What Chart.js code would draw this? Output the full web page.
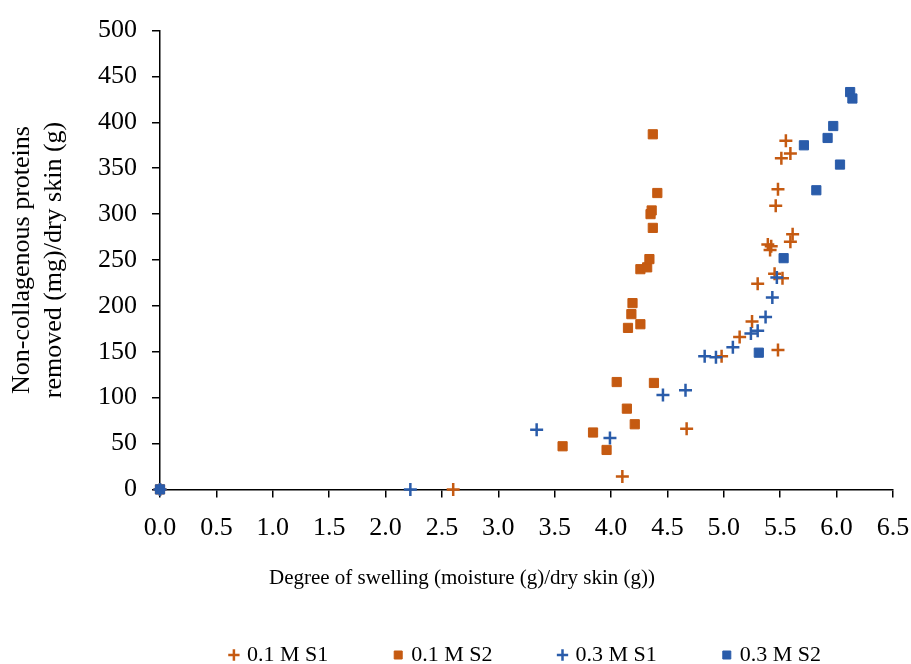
<!DOCTYPE html>
<html>
<head>
<meta charset="utf-8">
<script src="https://cdn.jsdelivr.net/npm/chart.js@4"></script>
<style>
  body { margin: 0; background: #fff; }
  canvas { display: block; }
</style>
</head>
<body>
<canvas id="swellingChart" width="911" height="664"></canvas>
<script>
// 0.1 M, series S1 / S2
var s1LowX = [0, 2.60, 4.10, 4.67, 4.98, 5.14, 5.25, 5.30, 5.48, 5.45, 5.52, 5.39, 5.42, 5.41, 5.59, 5.61, 5.46, 5.48, 5.51, 5.59, 5.55];
var s1LowY = [0, 0, 14, 66, 145, 166, 183, 224, 152, 235, 230, 267, 265, 261, 270, 278, 309, 327, 361, 366, 380];
var s2LowX = [0, 3.57, 3.84, 3.96, 4.05, 4.14, 4.21, 4.38, 4.15, 4.26, 4.18, 4.19, 4.26, 4.32, 4.34, 4.37, 4.35, 4.36, 4.41, 4.37];
var s2LowY = [0, 47, 62, 43, 117, 88, 71, 116, 176, 180, 191, 203, 240, 242, 251, 285, 300, 304, 323, 387];
// 0.3 M, series S1 / S2
var s1HighX = [0, 2.22, 3.34, 3.99, 4.46, 4.66, 4.83, 4.93, 5.08, 5.24, 5.30, 5.37, 5.43, 5.47];
var s1HighY = [0, 0, 65, 56, 103, 108, 145, 144, 155, 170, 173, 188, 209, 231];
var s2HighX = [0, 5.31, 5.53, 5.82, 6.03, 5.71, 5.92, 5.97, 6.12, 6.14];
var s2HighY = [0, 149, 252, 326, 354, 375, 383, 396, 433, 426];

var seriesNames = ['0.1 M S1', '0.1 M S2', '0.3 M S1', '0.3 M S2'];
var orange = '#C55A11';
var blue = '#2A5CAA';

function toPoints(xs, ys) {
	var pts = [];
	for (var i = 0; i < xs.length; i++) {
		pts.push({ x: xs[i], y: ys[i] });
	}
	return pts;
}

Chart.defaults.font.family = "'Liberation Serif', 'Times New Roman', serif";
Chart.defaults.font.size = 26;
Chart.defaults.color = '#000';

var ctx = document.getElementById('swellingChart');
var swellingChart = new Chart(ctx, {
	type: 'scatter',
	data: {
		datasets: [{
			label: seriesNames[0],
			data: toPoints(s1LowX, s1LowY),
			pointStyle: 'cross',
			pointRadius: 6.5,
			borderColor: orange,
			backgroundColor: orange,
			pointBorderWidth: 2.5,
			order: 4,
			clip: false
		}, {
			label: seriesNames[1],
			data: toPoints(s2LowX, s2LowY),
			pointStyle: 'rect',
			pointRadius: 6.5,
			borderColor: orange,
			backgroundColor: orange,
			pointBorderWidth: 1,
			order: 3,
			clip: false
		}, {
			label: seriesNames[2],
			data: toPoints(s1HighX, s1HighY),
			pointStyle: 'cross',
			pointRadius: 6.5,
			borderColor: blue,
			backgroundColor: blue,
			pointBorderWidth: 2.5,
			order: 2,
			clip: false
		}, {
			label: seriesNames[3],
			data: toPoints(s2HighX, s2HighY),
			pointStyle: 'rect',
			pointRadius: 6.5,
			borderColor: blue,
			backgroundColor: blue,
			pointBorderWidth: 1,
			order: 1,
			clip: false
		}]
	},
	options: {
		responsive: false,
		animation: false,
		layout: {
			padding: { left: 31, right: 18, top: 28, bottom: -12 }
		},
		scales: {
			x: {
				type: 'linear',
				min: 0,
				max: 6.5,
				ticks: {
					stepSize: 0.5,
					padding: 15,
					maxRotation: 0,
					callback: function (v) { return v.toFixed(1); }
				},
				grid: {
					drawOnChartArea: false,
					color: '#000',
					tickLength: 8,
					lineWidth: 1.5
				},
				border: { color: '#000', width: 1.5 },
				afterFit: function (scale) {
					scale.height = 76;
					scale.paddingLeft = 0;
					scale.paddingRight = 0;
				}
			},
			y: {
				min: 0,
				max: 500,
				ticks: {
					stepSize: 50,
					padding: 15
				},
				grid: {
					drawOnChartArea: false,
					color: '#000',
					tickLength: 8,
					lineWidth: 1.5
				},
				border: { color: '#000', width: 1.5 },
				title: {
					display: true,
					text: ['Non-collagenous proteins', 'removed (mg)/dry skin (g)'],
					padding: { top: -24, bottom: 0 }
				},
				afterFit: function (scale) { scale.width = 129; }
			}
		},
		plugins: {
			// x axis caption, centred on the whole figure like the original
			title: {
				display: true,
				position: 'bottom',
				weight: 500,
				text: 'Degree of swelling (moisture (g)/dry skin (g))',
				font: { size: 21, weight: 'normal' },
				padding: { top: 0, bottom: -14.6 }
			},
			legend: {
				position: 'bottom',
				fullSize: false,
				labels: {
					usePointStyle: true,
					boxWidth: 4,
					boxHeight: 8,
					padding: 68,
					font: { size: 22 },
					sort: function (a, b) { return a.datasetIndex - b.datasetIndex; }
				}
			},
			tooltip: { enabled: false }
		}
	}
});
</script>
</body>
</html>
